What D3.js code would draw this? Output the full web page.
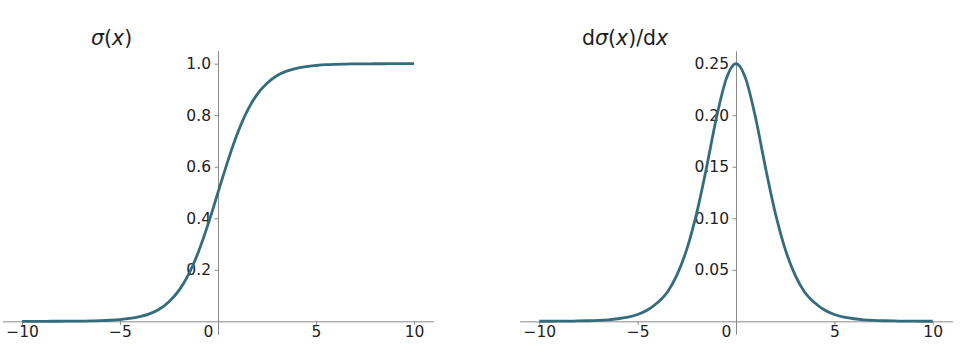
<!DOCTYPE html>
<html>
<head>
<meta charset="utf-8">
<script src="https://cdn.jsdelivr.net/npm/d3@7"></script>
<style>
  body { margin: 0; background: #fff; }
  svg { display: block; }
  .axis path, .axis line { stroke: #8a8a8a; stroke-width: 1; }
  .axis text { font-family: "DejaVu Sans", sans-serif; font-size: 15.5px; fill: #222; }
  .title { font-family: "DejaVu Sans", sans-serif; font-size: 20.5px; fill: #1e1e1e; }
</style>
</head>
<body>
<div id="chart"></div>
<script>
// x positions sampled on the curves
var xs = [-10, -9.5, -9, -8.5, -8, -7.5, -7, -6.5, -6, -5.5, -5, -4.5, -4, -3.5, -3, -2.5, -2, -1.5, -1, -0.5,
          0, 0.5, 1, 1.5, 2, 2.5, 3, 3.5, 4, 4.5, 5, 5.5, 6, 6.5, 7, 7.5, 8, 8.5, 9, 9.5, 10];

// sigma(x)
var sigmaVals = [0.00005, 0.00007, 0.00012, 0.0002, 0.00034, 0.00055, 0.0009, 0.0015, 0.0025, 0.0041,
                 0.0067, 0.011, 0.018, 0.029, 0.047, 0.076, 0.119, 0.182, 0.269, 0.378,
                 0.5, 0.622, 0.731, 0.818, 0.881, 0.924, 0.953, 0.971, 0.982, 0.989,
                 0.993, 0.996, 0.9975, 0.9985, 0.9991, 0.9994, 0.9997, 0.9998, 0.9999, 0.9999, 1.0];

// d sigma / dx
var dsigmaVals = [0.00005, 0.00007, 0.00012, 0.0002, 0.00034, 0.00055, 0.0009, 0.0015, 0.0025, 0.0041,
                  0.0066, 0.011, 0.018, 0.028, 0.045, 0.070, 0.105, 0.149, 0.197, 0.235,
                  0.25, 0.235, 0.197, 0.149, 0.105, 0.070, 0.045, 0.028, 0.018, 0.011,
                  0.0066, 0.0041, 0.0025, 0.0015, 0.0009, 0.00055, 0.00034, 0.0002, 0.00012, 0.00007, 0.00005];

var xTicks = [-10, -5, 0, 5, 10];
var sigmaTicks = [0.2, 0.4, 0.6, 0.8, 1.0];
var dsigmaTicks = [0.05, 0.10, 0.15, 0.20, 0.25];

var width = 963, height = 358;
var lineColor = "#356c7b";

var svg = d3.select("#chart").append("svg")
    .attr("width", width)
    .attr("height", height);

function drawPanel(opts) {
    var x = d3.scaleLinear().domain([-11, 11]).range(opts.xRange);
    var y = d3.scaleLinear().domain(opts.yDomain).range([334.2, 50.8]);

    var g = svg.append("g");

    // x axis sits on y = 0
    var xAxis = d3.axisBottom(x)
        .tickValues(xTicks)
        .tickSize(3.5)
        .tickSizeOuter(0)
        .tickPadding(1.5);

    var gx = g.append("g")
        .attr("class", "axis x-axis")
        .attr("transform", "translate(0," + y(0) + ")")
        .call(xAxis);

    // the "0" label is nudged left of the vertical axis
    gx.selectAll(".tick text")
        .filter(function(d) { return d === 0; })
        .attr("x", -10);

    // y axis sits on x = 0
    var yAxis = d3.axisLeft(y)
        .tickValues(opts.yTicks)
        .tickFormat(d3.format(opts.fmt))
        .tickSize(3.5)
        .tickSizeOuter(0)
        .tickPadding(3.5);

    g.append("g")
        .attr("class", "axis y-axis")
        .attr("transform", "translate(" + x(0) + ",0)")
        .call(yAxis);

    var line = d3.line()
        .curve(d3.curveMonotoneX)
        .x(function(d, i) { return x(xs[i]); })
        .y(function(d) { return y(d); });

    g.append("path")
        .datum(opts.values)
        .attr("fill", "none")
        .attr("stroke", lineColor)
        .attr("stroke-width", 2.8)
        .attr("stroke-linejoin", "round")
        .attr("d", line);

    var t = g.append("text")
        .attr("class", "title")
        .attr("x", opts.titleX)
        .attr("y", 45);
    opts.title.forEach(function(p) {
        t.append("tspan")
            .attr("font-style", p[1] ? "italic" : "normal")
            .text(p[0]);
    });
}

drawPanel({
    xRange: [2.4, 433.6],
    yDomain: [-0.05, 1.05],
    yTicks: sigmaTicks,
    fmt: ".1f",
    values: sigmaVals,
    titleX: 91,
    title: [["σ", true], ["(", false], ["x", true], [")", false]]
});

drawPanel({
    xRange: [519.6, 952.4],
    yDomain: [-0.0125, 0.2625],
    yTicks: dsigmaTicks,
    fmt: ".2f",
    values: dsigmaVals,
    titleX: 582,
    title: [["d", false], ["σ", true], ["(", false], ["x", true], [")/d", false], ["x", true]]
});
</script>
</body>
</html>
